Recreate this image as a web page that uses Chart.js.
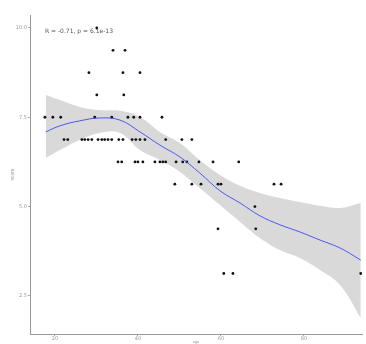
<!DOCTYPE html>
<html lang="en">
<head>
    <meta charset="UTF-8">
    <title>Score vs age</title>
    <script src="https://cdn.jsdelivr.net/npm/chart.js"></script>
    <style>
        body { margin: 0; background: #fff; }
        #wrap { width: 366px; height: 344px; }
    </style>
</head>
<body>
    <div id="wrap"><canvas id="myChart"></canvas></div>
<script>
    // observed points (x, y pairs)
    const pointsX = [
        30.1,
        34.0, 36.9,
        28.2, 36.4, 40.5,
        30.1, 36.6,
        17.6, 19.5, 21.4, 29.6, 33.7, 37.6, 39.0, 40.5, 45.8,
        22.2, 23.1, 26.5, 27.2, 28.0, 28.9, 30.4, 31.3, 32.0, 32.8, 33.7, 35.4, 36.4, 38.6, 39.5, 40.5, 41.7, 46.7, 50.6, 53.0,
        35.2, 36.1, 39.3, 40.0, 41.2, 44.1, 45.3, 46.0, 46.7, 49.2, 50.8, 51.8, 54.7, 58.1, 64.3,
        48.9, 53.0, 55.2, 59.3, 60.0, 72.8, 74.5,
        68.2,
        59.3, 68.4,
        60.7, 62.9, 93.7
    ];
    const pointsY = [
        10,
        9.375, 9.375,
        8.75, 8.75, 8.75,
        8.125, 8.125,
        7.5, 7.5, 7.5, 7.5, 7.5, 7.5, 7.5, 7.5, 7.5,
        6.875, 6.875, 6.875, 6.875, 6.875, 6.875, 6.875, 6.875, 6.875, 6.875, 6.875, 6.875, 6.875, 6.875, 6.875, 6.875, 6.875, 6.875, 6.875, 6.875,
        6.25, 6.25, 6.25, 6.25, 6.25, 6.25, 6.25, 6.25, 6.25, 6.25, 6.25, 6.25, 6.25, 6.25, 6.25,
        5.625, 5.625, 5.625, 5.625, 5.625, 5.625, 5.625,
        5.0,
        4.375, 4.375,
        3.125, 3.125, 3.125
    ];

    // loess fit with confidence band
    const smoothX = [17.8, 21.2, 26.0, 30.8, 35.7, 40.5, 45.3, 50.1, 54.9, 59.8, 64.6, 69.4, 74.2, 79.0, 83.9, 88.7, 93.7];
    const smoothY = [7.09, 7.26, 7.40, 7.48, 7.42, 7.09, 6.72, 6.39, 5.94, 5.44, 5.10, 4.74, 4.49, 4.29, 4.06, 3.84, 3.50];
    const upperY  = [8.12, 7.98, 7.79, 7.70, 7.68, 7.51, 7.09, 6.78, 6.30, 5.88, 5.58, 5.38, 5.24, 5.13, 5.02, 4.96, 5.10];
    const lowerY  = [6.36, 6.58, 6.86, 7.06, 7.06, 6.58, 6.30, 5.97, 5.52, 5.04, 4.57, 4.12, 3.78, 3.56, 3.22, 2.80, 1.88];

    const xTicks = [20, 40, 60, 80];
    const yTicks = [2.5, 5.0, 7.5, 10.0];
    const corLabel = 'R = -0.71, p = 6.1e-13';
    const xTitle = 'age';
    const yTitle = 'score';

    const pair = (xs, ys) => xs.map((x, i) => ({ x: x, y: ys[i] }));

    const corText = {
        id: 'corText',
        afterDatasetsDraw(chart) {
            const ctx = chart.ctx;
            ctx.save();
            ctx.fillStyle = '#555';
            ctx.font = '6px "DejaVu Sans"';
            ctx.textBaseline = 'middle';
            ctx.fillText(corLabel, chart.scales.x.getPixelForValue(17.6), chart.scales.y.getPixelForValue(9.9));
            ctx.restore();
        }
    };

    const tickFont = { size: 5, family: 'DejaVu Sans' };

    new Chart(document.getElementById('myChart'), {
        type: 'scatter',
        data: {
            datasets: [
                {
                    data: pair(smoothX, lowerY),
                    showLine: true,
                    borderWidth: 0,
                    pointRadius: 0,
                    tension: 0.4,
                    order: 3
                },
                {
                    data: pair(smoothX, upperY),
                    showLine: true,
                    borderWidth: 0,
                    pointRadius: 0,
                    tension: 0.4,
                    fill: '-1',
                    backgroundColor: 'rgba(170,170,170,0.45)',
                    order: 2
                },
                {
                    data: pair(pointsX, pointsY),
                    pointRadius: 1.4,
                    pointBackgroundColor: '#111',
                    pointBorderWidth: 0,
                    order: 1
                },
                {
                    data: pair(smoothX, smoothY),
                    showLine: true,
                    borderColor: '#4d55f0',
                    borderWidth: 1,
                    pointRadius: 0,
                    tension: 0.4,
                    order: 0
                }
            ]
        },
        options: {
            responsive: true,
            maintainAspectRatio: false,
            animation: false,
            layout: { padding: { top: 15, right: 4, left: 10, bottom: 0 } },
            plugins: { legend: { display: false }, tooltip: { enabled: false } },
            scales: {
                x: {
                    min: 14,
                    max: 94,
                    afterBuildTicks: (s) => { s.ticks = xTicks.map(v => ({ value: v })); },
                    afterFit: (s) => { s.height = 10; },
                    grid: { drawOnChartArea: false, tickLength: 2, color: '#aaa' },
                    border: { color: '#999', width: 1 },
                    ticks: { font: tickFont, color: '#999', padding: 0, maxRotation: 0 },
                    title: { display: true, text: xTitle, font: { size: 4 }, color: '#999', padding: 0 }
                },
                y: {
                    min: 1.43,
                    max: 10.364,
                    afterBuildTicks: (s) => { s.ticks = yTicks.map(v => ({ value: v })); },
                    afterFit: (s) => { s.width = 20; },
                    grid: { drawOnChartArea: false, tickLength: 2, color: '#aaa' },
                    border: { color: '#999', width: 1 },
                    ticks: { font: tickFont, color: '#999', padding: 1, callback: (v) => v.toFixed(1) },
                    title: { display: true, text: yTitle, font: { size: 5 }, color: '#999', padding: 0 }
                }
            }
        },
        plugins: [corText]
    });
</script>
</html>
